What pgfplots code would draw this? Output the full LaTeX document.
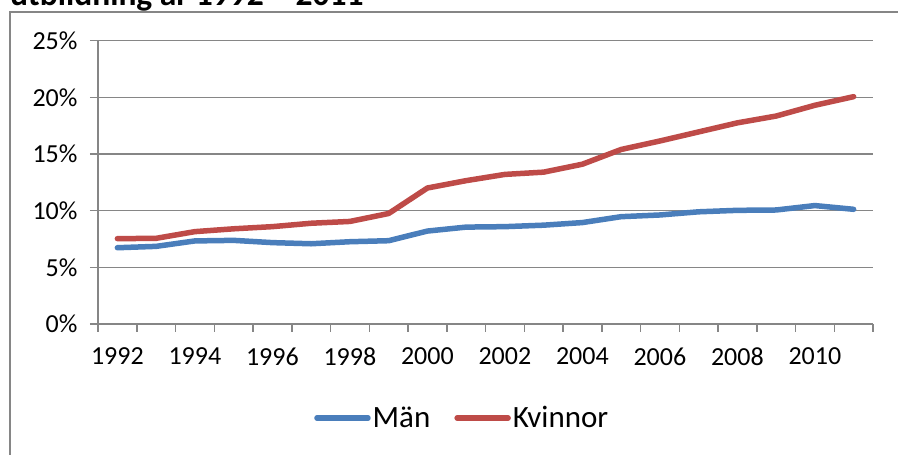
\documentclass[border=0pt]{standalone}
\usepackage{fontspec}
\setmainfont{Carlito}
\usepackage{pgfplots}
\pgfplotsset{compat=1.18}
\definecolor{manblue}{HTML}{4A7EBB}
\definecolor{kvred}{HTML}{BE4B48}
\definecolor{gridgray}{HTML}{868686}
\begin{document}
\begin{tikzpicture}[x=1bp,y=1bp]
\useasboundingbox (0,0) rectangle (898,455);
\node[anchor=base west, inner sep=0pt, font=\fontsize{33.5bp}{40bp}\selectfont\bfseries] at (10,449) {utbildning år 1992 – 2011};
\draw[gridgray, line width=1.5bp] (10,-5) -- (10,443) -- (905,443);
\begin{axis}[
  at={(98bp,131bp)}, anchor=south west,
  scale only axis, width=775bp, height=283.3bp,
  xmin=0, xmax=20, ymin=0, ymax=25,
  axis x line=bottom, axis y line=left,
  axis line style={gridgray, line width=1.5bp, -},
  xtick={0.5,2.5,...,18.5},
  xticklabels={1992,1994,1996,1998,2000,2002,2004,2006,2008,2010},
  minor xtick={0,1,...,20},
  ytick={0,5,...,25},
  yticklabels={0\%,5\%,10\%,15\%,20\%,25\%},
  tick align=outside,
  major tick length=8bp, minor tick length=8bp,
  every major x tick/.append style={draw=none},
  every minor x tick/.append style={gridgray, line width=1.5bp},
  every major y tick/.append style={gridgray, line width=1.5bp},
  ymajorgrids,
  major grid style={gridgray, line width=1.6bp},
  ticklabel style={font=\fontsize{26bp}{30bp}\selectfont},
  yticklabel style={xshift=-9bp},
  xticklabel style={yshift=-12.5bp},
  legend style={at={(0.47,-0.332)}, anchor=center, draw=none, fill=none,
    legend columns=2, font=\fontsize{31bp}{36bp}\selectfont,
    /tikz/every even column/.append style={column sep=22bp}},
  legend cell align=left,
  legend image code/.code={\draw[#1, line width=5.5bp, line cap=round] (0bp,0bp) -- (51bp,0bp);},
]
\addplot[manblue, line width=5.5bp, line join=round, line cap=round] coordinates {
(0.5,6.73) (1.5,6.85) (2.5,7.33) (3.5,7.38) (4.5,7.18) (5.5,7.08) (6.5,7.26) (7.5,7.35) (8.5,8.2) (9.5,8.55)
(10.5,8.59) (11.5,8.72) (12.5,8.95) (13.5,9.47) (14.5,9.62) (15.5,9.9) (16.5,10.03) (17.5,10.06) (18.5,10.45) (19.5,10.12)
};
\addlegendentry{Män}
\addplot[kvred, line width=5.5bp, line join=round, line cap=round] coordinates {
(0.5,7.53) (1.5,7.56) (2.5,8.15) (3.5,8.40) (4.5,8.59) (5.5,8.89) (6.5,9.05) (7.5,9.75) (8.5,12.0) (9.5,12.65)
(10.5,13.2) (11.5,13.4) (12.5,14.1) (13.5,15.4) (14.5,16.15) (15.5,16.95) (16.5,17.75) (17.5,18.35) (18.5,19.3) (19.5,20.06)
};
\addlegendentry{Kvinnor}
\end{axis}
\end{tikzpicture}
\end{document}
